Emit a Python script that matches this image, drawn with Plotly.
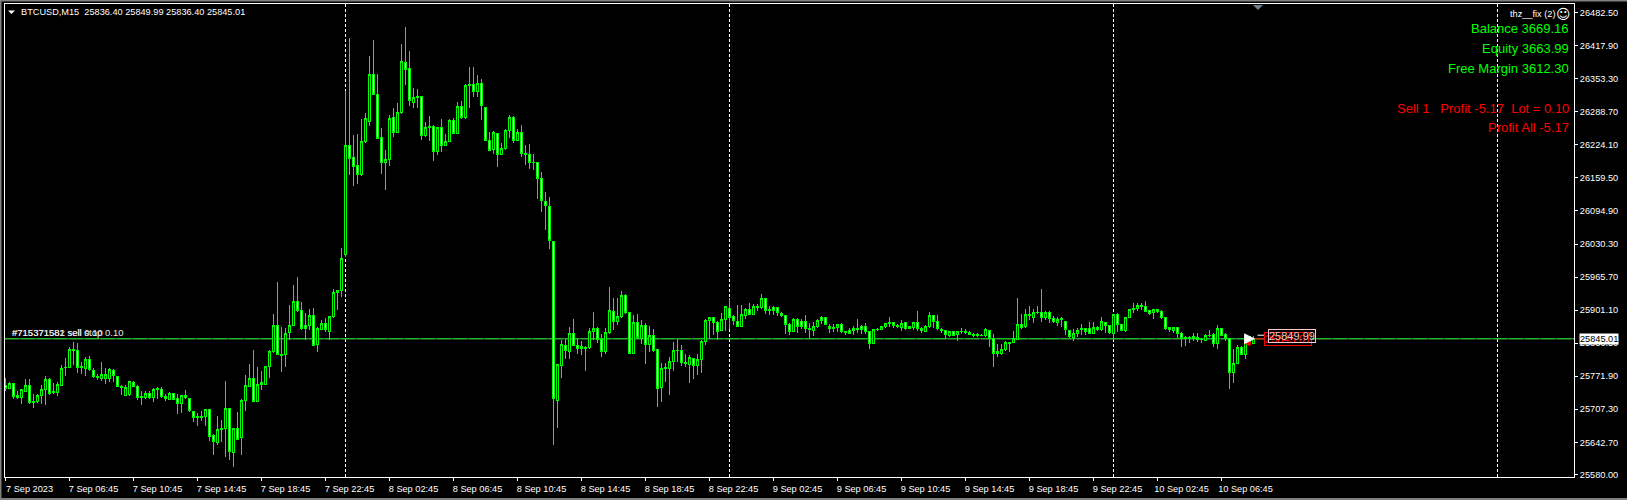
import plotly.graph_objects as go

# ---- chart data: BTCUSD M15 bars ----
direction = (
    "d u d d u u d u u u u d d u u u u d d u "
    "u d d u u u u d d d u u d d u u d u u d "
    "d u d d u d d d u d u d d u u u d u d u "
    "u u d u u u u u d u u u u d d d u d u u "
    "d u u u u u d d d u u u d d d u u d u u "
    "d d u u d u u d u d u u d u d u u d u d "
    "d d u d u u u d u d u d d d d d d d u u "
    "d u d d u u u u d d u u d u u d d u d u "
    "d u d d u u u u u d u u d u u u u d d u "
    "u d d d u u d u u u d u d d d d d u d d "
    "d u u u d d d u u d d d u u d d d u u u "
    "u u d d u d u u d u u u d d u d u d u u "
    "u d d u u u d d u u u u u u d u u u u d "
    "u d d u u d d u u u d d u d u d d u d d "
    "u u u u u d d u d d d u u d d u u u d u "
    "u u d u d d d u u d u u u"
).split()

body_high = [
    25753,25757,25757,25734,25745,25753,25753,25723,25735,25746,25766,25766,25741,25755,25787,25789,25825,25825,25823,25790,
    25805,25805,25783,25772,25775,25775,25785,25783,25772,25752,25749,25761,25760,25752,25733,25738,25738,25746,25747,25746,
    25732,25738,25738,25728,25734,25734,25728,25703,25694,25693,25707,25707,25656,25668,25670,25709,25709,25670,25670,25725,
    25753,25768,25768,25756,25760,25790,25821,25871,25871,25815,25856,25871,25918,25918,25900,25871,25891,25891,25865,25875,
    25875,25888,25935,25940,26002,26222,26222,26200,26183,26231,26276,26362,26362,26322,26239,26196,26276,26278,26288,26387,
    26385,26374,26317,26319,26319,26258,26260,26260,26258,26258,26231,26272,26272,26299,26299,26340,26342,26342,26344,26344,
    26297,26233,26249,26247,26217,26252,26278,26278,26249,26249,26208,26206,26190,26190,26159,26114,26104,26035,25795,25834,
    25832,25856,25856,25832,25829,25828,25860,25865,25865,25844,25858,25900,25899,25889,25930,25930,25897,25877,25877,25871,
    25871,25852,25852,25824,25787,25788,25801,25822,25823,25822,25798,25809,25807,25805,25840,25881,25887,25887,25877,25883,
    25908,25904,25889,25878,25893,25903,25903,25908,25908,25924,25924,25903,25906,25906,25895,25891,25873,25883,25883,25879,
    25879,25865,25869,25881,25887,25887,25870,25867,25873,25873,25859,25861,25865,25865,25869,25869,25859,25863,25864,25869,
    25875,25877,25876,25871,25875,25876,25869,25876,25877,25865,25870,25891,25891,25879,25863,25861,25859,25859,25859,25860,
    25859,25857,25854,25854,25852,25863,25861,25845,25820,25825,25837,25838,25845,25873,25873,25893,25893,25897,25897,25897,
    25897,25897,25884,25882,25884,25879,25861,25856,25862,25865,25865,25865,25867,25867,25878,25877,25871,25893,25893,25872,
    25887,25902,25904,25910,25910,25908,25900,25902,25902,25899,25887,25867,25867,25867,25856,25848,25847,25850,25847,25844,
    25852,25852,25854,25865,25865,25854,25846,25797,25828,25828,25850,25849,25845.01,
]
body_low = [
    25748,25747,25733,25730,25730,25742,25720,25721,25722,25734,25746,25738,25740,25740,25754,25788,25789,25822,25789,25788,
    25786,25784,25771,25769,25767,25767,25767,25773,25752,25750,25735,25736,25751,25730,25730,25730,25730,25730,25746,25732,
    25728,25727,25727,25718,25718,25730,25704,25691,25691,25691,25693,25654,25644,25643,25668,25669,25624,25623,25649,25652,
    25724,25751,25723,25723,25756,25756,25790,25820,25815,25813,25814,25857,25871,25900,25865,25865,25871,25832,25833,25864,
    25864,25860,25888,25935,25939,26009,26197,26181,26166,26166,26230,26269,26322,26237,26189,26189,26195,26249,26249,26287,
    26372,26311,26307,26317,26242,26242,26258,26211,26211,26223,26223,26230,26246,26246,26277,26277,26340,26328,26328,26301,
    26232,26214,26215,26205,26205,26217,26252,26232,26232,26207,26206,26189,26189,26158,26115,26105,26037,25729,25725,25792,
    25822,25820,25832,25826,25826,25826,25828,25859,25843,25820,25820,25857,25878,25878,25888,25896,25816,25816,25847,25846,
    25833,25833,25823,25747,25749,25786,25786,25800,25822,25798,25796,25794,25792,25792,25804,25840,25880,25876,25860,25861,
    25882,25886,25880,25870,25870,25890,25892,25892,25906,25906,25900,25901,25901,25896,25890,25873,25859,25859,25869,25869,
    25865,25863,25862,25869,25880,25873,25865,25865,25867,25859,25857,25856,25861,25863,25864,25860,25835,25835,25863,25863,
    25869,25874,25871,25869,25868,25865,25865,25867,25865,25861,25860,25869,25878,25865,25861,25853,25852,25852,25853,25859,
    25858,25853,25851,25852,25851,25851,25845,25817,25817,25817,25824,25836,25837,25844,25867,25869,25891,25887,25896,25886,
    25886,25884,25878,25876,25882,25863,25849,25848,25855,25864,25859,25856,25856,25863,25863,25871,25858,25856,25872,25861,
    25861,25887,25902,25904,25909,25899,25895,25896,25898,25886,25865,25863,25862,25856,25846,25846,25846,25846,25844,25843,
    25841,25851,25835,25835,25852,25846,25779,25779,25796,25814,25814,25839,25836.40,
]
highs = [
    25768,25761,25758,25742,25746,25766,25766,25738,25737,25755,25772,25768,25758,25761,25794,25807,25828,25838,25837,25800,
    25809,25811,25787,25776,25800,25787,25787,25785,25773,25755,25754,25763,25762,25754,25742,25742,25742,25749,25751,25750,
    25738,25741,25740,25738,25736,25745,25730,25704,25699,25703,25708,25708,25659,25695,25686,25762,25710,25670,25702,25728,
    25774,25796,25823,25789,25783,25792,25823,25893,25956,25869,25867,25911,25950,25965,25917,25895,25904,25906,25869,25882,
    25885,25889,25942,25940,26022,26330,26434,26243,26245,26274,26287,26398,26430,26363,26258,26214,26282,26296,26306,26421,
    26454,26408,26335,26333,26319,26269,26281,26262,26260,26274,26245,26274,26276,26308,26310,26344,26376,26376,26361,26353,
    26299,26249,26251,26248,26227,26255,26282,26280,26256,26262,26224,26225,26206,26191,26172,26132,26122,26035,25795,25842,
    25845,25869,25884,25845,25840,25830,25867,25897,25869,25854,25866,25946,25924,25924,25938,25932,25898,25891,25893,25882,
    25875,25870,25864,25826,25797,25797,25809,25839,25845,25832,25815,25813,25808,25815,25843,25883,25888,25888,25880,25895,
    25910,25924,25892,25911,25911,25906,25914,25913,25913,25932,25925,25909,25909,25907,25897,25892,25876,25885,25886,25883,
    25891,25876,25878,25883,25890,25888,25873,25874,25874,25875,25861,25867,25870,25884,25872,25876,25860,25865,25867,25870,
    25876,25887,25878,25874,25881,25878,25870,25878,25899,25869,25871,25897,25892,25891,25867,25863,25861,25861,25861,25867,
    25864,25861,25856,25856,25854,25867,25863,25854,25835,25835,25841,25839,25860,25925,25893,25903,25909,25904,25910,25942,
    25900,25900,25889,25887,25887,25880,25863,25865,25867,25874,25867,25877,25878,25870,25888,25878,25872,25894,25896,25874,
    25888,25904,25914,25914,25914,25918,25901,25904,25904,25901,25888,25869,25869,25869,25859,25850,25850,25856,25857,25846,
    25854,25863,25856,25871,25867,25856,25847,25825,25832,25831,25851,25851,25849.99,
]
lows = [
    25742,25746,25727,25728,25718,25741,25717,25709,25720,25717,25716,25736,25737,25734,25753,25772,25787,25794,25779,25777,
    25772,25783,25768,25764,25763,25757,25760,25761,25750,25735,25734,25734,25750,25725,25715,25728,25728,25721,25728,25730,
    25724,25725,25725,25698,25699,25728,25702,25682,25674,25685,25674,25646,25618,25637,25644,25614,25608,25595,25647,25618,
    25704,25750,25722,25722,25745,25755,25768,25818,25813,25781,25790,25843,25870,25898,25863,25843,25863,25830,25820,25862,
    25859,25843,25885,25901,25927,26005,26165,26144,26148,26164,26228,26261,26321,26236,26167,26136,26183,26239,26247,26285,
    26341,26300,26296,26296,26234,26239,26232,26193,26204,26210,26221,26229,26245,26245,26275,26275,26296,26318,26318,26273,
    26231,26213,26206,26181,26204,26215,26237,26228,26231,26201,26185,26177,26175,26118,26093,26058,26021,25637,25671,25768,
    25805,25805,25830,25815,25813,25782,25825,25843,25837,25809,25815,25855,25862,25871,25886,25893,25815,25815,25845,25835,
    25796,25820,25820,25712,25721,25760,25735,25782,25800,25792,25790,25759,25766,25775,25779,25833,25845,25852,25843,25860,
    25860,25865,25871,25868,25869,25884,25891,25891,25900,25904,25894,25891,25891,25890,25887,25854,25852,25858,25856,25865,
    25856,25846,25850,25867,25874,25871,25857,25859,25858,25857,25852,25854,25852,25856,25854,25854,25826,25834,25860,25862,
    25866,25869,25867,25866,25861,25863,25864,25863,25860,25857,25858,25867,25867,25863,25856,25845,25848,25850,25841,25854,
    25854,25852,25848,25849,25850,25849,25828,25790,25809,25814,25822,25819,25836,25843,25865,25867,25882,25876,25893,25878,
    25882,25876,25876,25870,25869,25852,25847,25841,25848,25853,25852,25854,25854,25861,25861,25856,25854,25846,25859,25860,
    25859,25886,25896,25900,25902,25897,25891,25884,25896,25884,25863,25858,25856,25846,25828,25830,25836,25841,25839,25837,
    25840,25848,25828,25825,25850,25841,25747,25759,25795,25813,25805,25837,25836.40,
]

tick_bars = [0, 16, 32, 48, 64, 80, 96, 112, 128, 144, 160, 176, 192, 208, 224, 240, 256, 272, 288, 304]
tick_labels = ["7 Sep 2023", "7 Sep 06:45", "7 Sep 10:45", "7 Sep 14:45", "7 Sep 18:45", "7 Sep 22:45",
               "8 Sep 02:45", "8 Sep 06:45", "8 Sep 10:45", "8 Sep 14:45", "8 Sep 18:45", "8 Sep 22:45",
               "9 Sep 02:45", "9 Sep 06:45", "9 Sep 10:45", "9 Sep 14:45", "9 Sep 18:45", "9 Sep 22:45",
               "10 Sep 02:45", "10 Sep 06:45"]
price_ticks = [25580.00, 25642.70, 25707.30, 25771.90, 25836.50, 25901.10, 25965.70, 26030.30,
               26094.90, 26159.50, 26224.10, 26288.70, 26353.30, 26417.90, 26482.50]
day_separators = [85, 181, 277, 373]
bid_price = 25845.01
ask_price = 25849.99
order_texts = ["#715371582 sell 0.10", "#715371581 sell stop 0.10"]
account_lines = ["Balance 3669.16", "Equity 3663.99", "Free Margin 3612.30"]
trade_lines = ["Sell 1\u00a0\u00a0\u00a0Profit -5.17\u00a0\u00a0Lot = 0.10", "Profit All -5.17"]
header_text = "BTCUSD,M15\u00a0\u00a025836.40 25849.99 25836.40 25845.01"
expert_text = "thz__fix (2)"

opens = [t if d == "d" else b for t, b, d in zip(body_high, body_low, direction)]
closes = [b if d == "d" else t for t, b, d in zip(body_high, body_low, direction)]
bars = list(range(len(opens)))
assert len(opens) == len(highs) == len(lows) == len(closes) == 313

# ---- page geometry ----
W, H = 1627, 500
L, R, T, B = 5, 1574, 4, 477
FONT = "Liberation Sans"
AX = 9.2
LIME = "#00ff00"


def px(x):
    return (x - L) / (R - L)


def py(y):
    return (B - y) / (B - T)


fig = go.Figure()
fig.add_trace(go.Candlestick(
    x=bars, open=opens, high=highs, low=lows, close=closes,
    increasing=dict(line=dict(color=LIME, width=1), fillcolor="#000000"),
    decreasing=dict(line=dict(color=LIME, width=1), fillcolor="#ffffff"),
    hoverinfo="skip", showlegend=False,
))
# open-position marks at the last bars
fig.add_trace(go.Scatter(x=[312.0, 315.0], y=[bid_price, bid_price], mode="lines",
                         line=dict(color="#ff0000", width=1), hoverinfo="skip", showlegend=False))
fig.add_trace(go.Scatter(x=[313.0, 315.5], y=[25852, 25852], mode="lines",
                         line=dict(color="#ffffff", width=1), hoverinfo="skip", showlegend=False))
fig.add_trace(go.Scatter(x=[310.8], y=[25836.4], mode="markers",
                         marker=dict(color="#ff0000", size=5), hoverinfo="skip", showlegend=False))
fig.add_trace(go.Scatter(x=[312.4], y=[bid_price], mode="markers",
                         marker=dict(color="#ffffff", size=11, symbol="arrow-right", line=dict(width=0)),
                         hoverinfo="skip", showlegend=False))

shapes = []
for d in day_separators:
    shapes.append(dict(type="line", xref="x", yref="paper", x0=d, x1=d, y0=0, y1=1, layer="below",
                       line=dict(color="#ffffff", width=1, dash="3px,2px")))
shapes.append(dict(type="line", xref="paper", yref="y", x0=0, x1=1, y0=bid_price, y1=bid_price, layer="below",
                   line=dict(color="#778899", width=1)))
shapes.append(dict(type="line", xref="paper", yref="y", x0=0, x1=1, y0=bid_price, y1=bid_price, layer="below",
                   line=dict(color="#00e000", width=1, dash="14px,2px")))
# window edges
for (x0, x1, y0, y1) in [(0, W, 0, 1.5), (0, 1.5, 0, H), (0, W, 498, H)]:
    shapes.append(dict(type="rect", xref="paper", yref="paper", x0=px(x0), x1=px(x1), y0=py(y0), y1=py(y1),
                       fillcolor="#808080", line=dict(width=0)))
# chart-menu triangle, chart-shift triangle
for cx, cy, hw, hh, col in [(11.5, 10.5, 3.5, 3.5, "#ffffff"), (1258, 5, 5, 5, "#708090")]:
    path = f"M {px(cx-hw)} {py(cy)} L {px(cx+hw)} {py(cy)} L {px(cx)} {py(cy+hh)} Z"
    shapes.append(dict(type="path", xref="paper", yref="paper", path=path, fillcolor=col, line=dict(width=0)))

ann = []


def text(x, y, s, color="#ffffff", size=AX, anchor="left", family=FONT, **kw):
    ann.append(dict(xref="paper", yref="paper", x=px(x), y=py(y), text=s, showarrow=False, xanchor=anchor,
                    yanchor="middle", font=dict(color=color, size=size, family=family), borderpad=0, **kw))


text(20, 12.5, header_text)
text(1556, 14, expert_text, anchor="right")
text(1563.5, 13.5, "\u263a", size=14, anchor="center", family="DejaVu Sans")
for y, s in zip([28, 48, 68], account_lines):
    text(1570, y, s, color=LIME, size=13, anchor="right")
for y, s in zip([108, 128], trade_lines):
    text(1570, y, s, color="#ff0000", size=13, anchor="right")
for s in order_texts:
    text(11, 332, s, color="#e8e8e8", size=9.5)
# order price flags
text(1288, 338.5, f"{bid_price:.2f}", color="#ff0000", size=11, anchor="center",
     bordercolor="#ff0000", borderwidth=1, bgcolor="#000000")
text(1292, 335.5, f"{ask_price:.2f}", color="#e0c8c8", size=11, anchor="center",
     bordercolor="#ffc8d0", borderwidth=1, bgcolor="rgba(0,0,0,0)")
# current price flag on the axis
text(1599, 338.5, f"{bid_price:.2f}", color="#000000", size=AX, anchor="center", bgcolor="#ffffff")

fig.update_layout(
    width=W, height=H,
    margin=dict(l=L, r=W - R, t=T, b=H - B, autoexpand=False),
    paper_bgcolor="#000000", plot_bgcolor="#000000",
    boxgap=0.5, boxgroupgap=0,
    showlegend=False, shapes=shapes, annotations=ann,
    font=dict(family=FONT, color="#ffffff", size=AX),
    xaxis=dict(range=[-0.125, 392.125], tickmode="array", tickvals=tick_bars, ticktext=tick_labels,
               ticks="outside", ticklen=3, tickcolor="#ffffff", tickwidth=1,
               ticklabelshift=24, tickangle=0,
               showgrid=False, zeroline=False, showline=True, linecolor="#ffffff", linewidth=1, mirror=True,
               rangeslider=dict(visible=False), tickfont=dict(color="#ffffff", size=AX, family=FONT)),
    yaxis=dict(range=[25574.8, 26499.5], side="right", tickmode="array", tickvals=price_ticks,
               ticktext=[f"{v:.2f}" for v in price_ticks],
               ticks="outside", ticklen=3, tickcolor="#ffffff", tickwidth=1,
               showgrid=False, zeroline=False, showline=True, linecolor="#ffffff", linewidth=1, mirror=True,
               tickfont=dict(color="#ffffff", size=AX, family=FONT)),
)

fig.write_html("out.html", config=dict(displayModeBar=False),
               post_script="document.body.style.margin='0';document.body.style.background='#000';"
                           "var s=document.createElement('style');"
                           "s.textContent='.boxes path{shape-rendering:crispEdges}';"
                           "document.head.appendChild(s);")
